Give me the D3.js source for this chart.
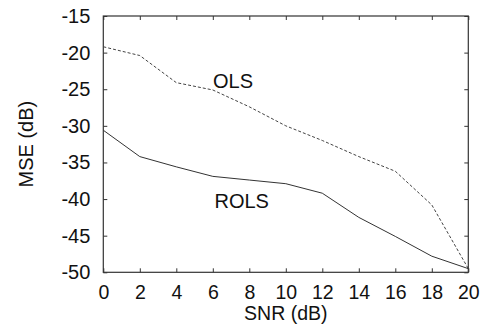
<!DOCTYPE html>
<html><head><meta charset="utf-8">
<script src="https://cdn.jsdelivr.net/npm/d3@7"></script>
<style>
body{margin:0;background:#fff;}
text{font-family:"Liberation Sans",Arial,Helvetica,sans-serif;fill:#111;}
</style></head>
<body><svg id="c" width="482" height="324"></svg>
<script>
const snr = [0,2,4,6,8,10,12,14,16,18,20];
const olsMSE = [-19.2,-20.4,-24.1,-25.1,-27.4,-30.0,-32.0,-34.2,-36.2,-40.8,-49.5];
const rolsMSE = [-30.6,-34.2,-35.6,-36.9,-37.4,-37.9,-39.2,-42.5,-45.1,-47.8,-49.5];
const xTicks = [0,2,4,6,8,10,12,14,16,18,20];
const yTicks = [-15,-20,-25,-30,-35,-40,-45,-50];
const seriesNames = ["OLS","ROLS"];
const xLabel = "SNR (dB)", yLabel = "MSE (dB)";

const L=103.3, R=468.3, T=16, B=272.3;
const FS = 19.5;
const svg = d3.select("#c");
const x = d3.scaleLinear().domain([0,20]).range([L,R]);
const y = d3.scaleLinear().domain([-50,-15]).range([B,T]);
const axCol = "#333";
const fmt = d => String(d);

function styleAxis(g){
  g.select(".domain").remove();
  g.selectAll(".tick line").attr("stroke",axCol).attr("stroke-width",1);
}
// bottom with labels (ticks pointing in)
svg.append("g").attr("transform",`translate(0,${B})`)
  .call(d3.axisBottom(x).tickValues(xTicks).tickFormat(fmt).tickSizeInner(-4).tickSizeOuter(0).tickPadding(13))
  .call(styleAxis)
  .call(g=>g.selectAll("text").attr("font-size",FS).attr("fill","#111").attr("font-family","Liberation Sans, Arial, sans-serif"));
// top ticks
svg.append("g").attr("transform",`translate(0,${T})`)
  .call(d3.axisTop(x).tickValues(xTicks).tickSizeInner(-4).tickSizeOuter(0).tickFormat(""))
  .call(styleAxis);
// left with labels
svg.append("g").attr("transform",`translate(${L},0)`)
  .call(d3.axisLeft(y).tickValues(yTicks).tickFormat(fmt).tickSizeInner(-4).tickSizeOuter(0).tickPadding(13))
  .call(styleAxis)
  .call(g=>g.selectAll("text").attr("font-size",20).attr("fill","#111").attr("font-family","Liberation Sans, Arial, sans-serif"));
// right ticks
svg.append("g").attr("transform",`translate(${R},0)`)
  .call(d3.axisRight(y).tickValues(yTicks).tickSizeInner(-4).tickSizeOuter(0).tickFormat(""))
  .call(styleAxis);

// frame
svg.append("rect").attr("x",L).attr("y",T).attr("width",R-L).attr("height",B-T)
  .attr("fill","none").attr("stroke",axCol).attr("stroke-width",1.2);

const line = d3.line().x((d,i)=>x(snr[i])).y(d=>y(d));
svg.append("path").datum(olsMSE).attr("d",line).attr("fill","none")
  .attr("stroke","#444").attr("stroke-width",1).attr("stroke-dasharray","3,2");
svg.append("path").datum(rolsMSE).attr("d",line).attr("fill","none")
  .attr("stroke","#333").attr("stroke-width",1);

svg.append("text").attr("x",213).attr("y",88).attr("font-size",20).text(seriesNames[0]);
svg.append("text").attr("x",214.5).attr("y",208).attr("font-size",20).text(seriesNames[1]);

svg.append("text").attr("x",(L+R)/2).attr("y",320).attr("text-anchor","middle").attr("font-size",FS).text(xLabel);
svg.append("text").attr("transform",`translate(33,${(T+B)/2}) rotate(-90)`).attr("text-anchor","middle").attr("font-size",20).text(yLabel);
</script></body></html>
